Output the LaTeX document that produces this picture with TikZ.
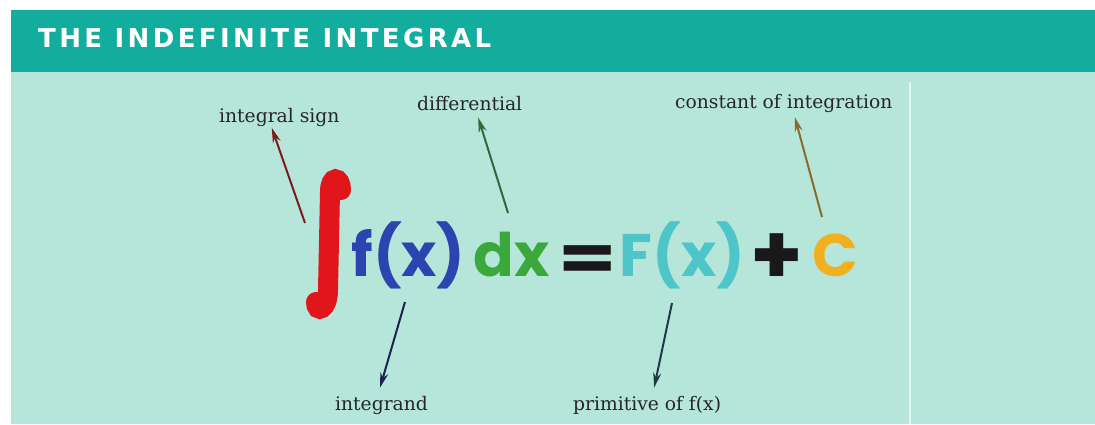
\documentclass[tikz,border=0pt]{standalone}
\usepackage{fontspec}
\usepackage{graphicx}
\usetikzlibrary{arrows.meta}

\newfontfamily\titlefont{DejaVu Sans}[LetterSpace=13]
\newfontfamily\eqnfont{Poppins}
\newfontfamily\lblfont{DejaVu Serif}

\definecolor{headteal}{HTML}{12AD9D}
\definecolor{panelmint}{HTML}{B6E6DA}
\definecolor{intred}{HTML}{E0161B}
\definecolor{fxblue}{HTML}{2B44B0}
\definecolor{dxgreen}{HTML}{3AA83A}
\definecolor{Fxcyan}{HTML}{4EC5C9}
\definecolor{cgold}{HTML}{F0B020}
\definecolor{signred}{HTML}{7B1C1C}
\definecolor{diffgreen}{HTML}{2E6B3A}
\definecolor{constbrown}{HTML}{8A6B2C}
\definecolor{intnavy}{HTML}{1C2150}
\definecolor{primteal}{HTML}{1E3B45}

\tikzset{
  lbl/.style={inner sep=0pt, anchor=base west, text=black!85,
    font=\lblfont\fontsize{18.7}{20}\selectfont},
  eqn/.style={inner sep=0pt, anchor=base,
    font=\eqnfont\bfseries\fontsize{60}{60}\selectfont},
  sym/.style={eqn, text=black!90,
    font=\eqnfont\bfseries\fontsize{84}{84}\selectfont},
  ptr/.style={line width=2pt, -{Stealth[length=15pt,width=8pt]}}
}

\begin{document}
\begin{tikzpicture}[x=1pt, y=-1pt]
  \useasboundingbox (0, 0) rectangle (1095, 424);
  \fill[white] (0, 0) rectangle (1095, 424);
  % panel and header
  \fill[panelmint] (11, 72) rectangle (1095, 424);
  \fill[headteal] (11, 10) rectangle (1095, 72);
  \draw[line width=2pt, white!60!panelmint] (910, 82) -- (910, 424);
  \node[anchor=base west, inner sep=0pt, text=white,
    font=\titlefont\bfseries\fontsize{26}{26}\selectfont] (title) at (38, 47)
    {THE INDEFINITE INTEGRAL};

  % the equation
  \draw[line width=20pt, line cap=round, intred]
    (341, 190) .. controls (341, 176) and (330, 175) .. (330, 192)
    -- (328, 290) .. controls (328, 310) and (316, 314) .. (316, 302);
  \node[eqn, text=fxblue] (fx) at (408.5, 276) {f(x)};
  \node[eqn, text=dxgreen] (dx) at (512, 276) {dx};
  \node[sym] (eq) at (587.5, 280) {\scalebox{1}[0.75]{=}};
  \node[eqn, text=Fxcyan] (Fx) at (682.5, 276) {F(x)};
  \node[sym] (plus) at (776.5, 284.5) {+};
  \node[eqn, text=cgold] (const) at (835, 276) {C};

  % labels
  \node[lbl] (lblsign) at (219, 122) {integral sign};
  \node[lbl] (lbldiff) at (417, 110) {differential};
  \node[lbl] (lblconst) at (675, 108) {constant of integration};
  \node[lbl] (lblintegrand) at (335, 410) {integrand};
  \node[lbl] (lblprim) at (573, 410) {primitive of f(x)};

  \coordinate (signfoot) at (305, 223);
  \coordinate (difffoot) at (508, 213);
  \coordinate (constfoot) at (822, 217);
  \coordinate (fxfoot) at (405, 302);
  \coordinate (Fxfoot) at (672, 303);

  \draw[ptr, signred] (signfoot) -- ([xshift=-7.5pt, yshift=-1.5pt]lblsign.south);
  \draw[ptr, diffgreen] (difffoot) -- ([xshift=8.5pt, yshift=-7pt]lbldiff.south);
  \draw[ptr, constbrown] (constfoot) -- ([xshift=11pt, yshift=-4.5pt]lblconst.south);
  \draw[ptr, intnavy] (fxfoot) -- ([xshift=-1.5pt, yshift=8pt]lblintegrand.north);
  \draw[ptr, primteal] (Fxfoot) -- ([xshift=7pt, yshift=8pt]lblprim.north);
\end{tikzpicture}
\end{document}
